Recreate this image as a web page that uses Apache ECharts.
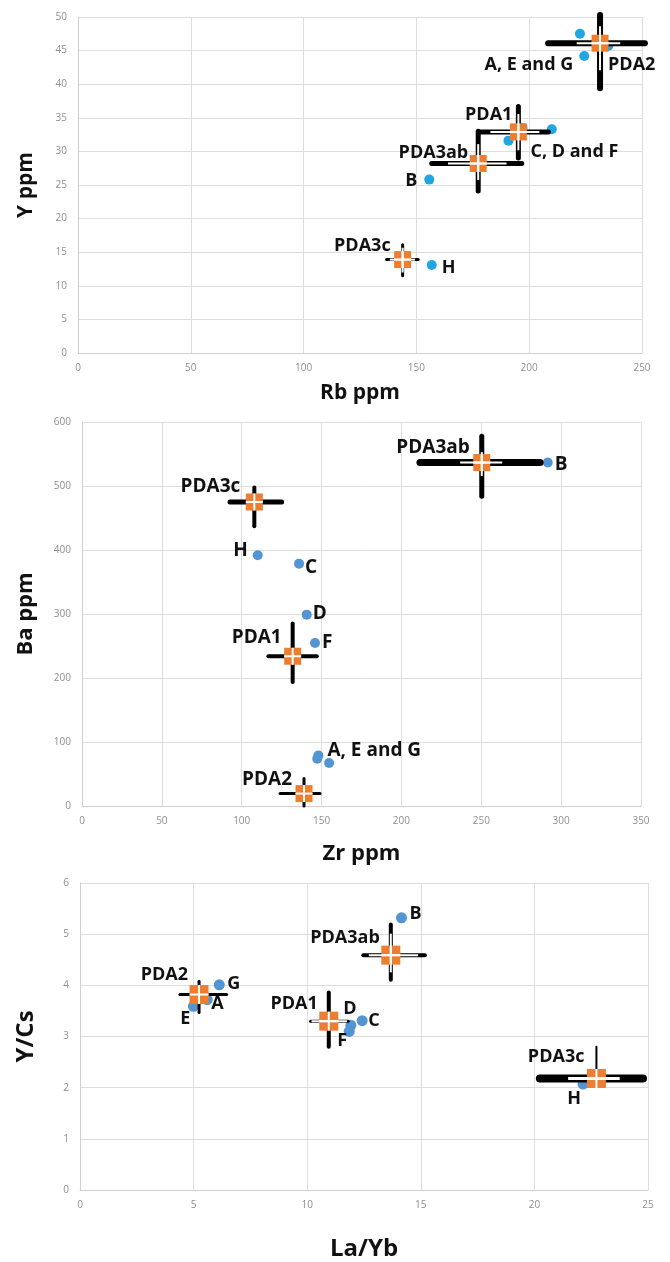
<!DOCTYPE html>
<html><head><meta charset="utf-8">
<script src="https://cdn.jsdelivr.net/npm/echarts@6/dist/echarts.min.js"></script>
<style>html,body{margin:0;padding:0;background:#fff}#c{width:670px;height:1262px}</style>
</head><body><div id="c"></div>
<script>
// ---------- Panel 1: Rb vs Y ----------
const p1SampleRb = [222.5, 224.4, 235.0, 210.0, 190.8, 197.0, 155.7, 156.8];
const p1SampleY  = [47.5, 44.2, 45.7, 33.3, 31.6, 33.5, 25.8, 13.1];
const p1SampleLabels = ['', 'A, E and G', '', '', 'C, D and F', '', 'B', 'H'];
const p1PdaNames = ['PDA2', 'PDA1', 'PDA3ab', 'PDA3c'];
const p1PdaRb = [231.4, 195.2, 177.4, 143.9];
const p1PdaY  = [46.1, 32.9, 28.2, 13.9];
const p1PdaRbLow  = [208.4, 177.5, 156.8, 136.8];
const p1PdaRbHigh = [251.3, 208.5, 196.7, 150.8];
const p1PdaYLow   = [39.4, 29.0, 24.1, 11.5];
const p1PdaYHigh  = [50.3, 36.7, 33.0, 16.1];

// ---------- Panel 2: Zr vs Ba ----------
const p2SampleZr = [110.0, 135.9, 140.7, 145.9, 148.0, 147.3, 154.7, 291.6];
const p2SampleBa = [391.7, 378.7, 299.0, 254.7, 79.0, 74.0, 67.2, 536.6];
const p2SampleLabels = ['H', 'C', 'D', 'F', 'A, E and G', '', '', 'B'];
const p2PdaNames = ['PDA3c', 'PDA3ab', 'PDA1', 'PDA2'];
const p2PdaZr = [107.9, 250.3, 131.9, 139.0];
const p2PdaBa = [475.0, 536.6, 234.0, 19.4];
const p2PdaZrLow  = [92.7, 211.6, 116.7, 124.0];
const p2PdaZrHigh = [125.0, 286.8, 147.0, 149.0];
const p2PdaBaLow  = [437.0, 484.0, 193.7, 0.0];
const p2PdaBaHigh = [497.5, 577.7, 285.0, 42.8];

// ---------- Panel 3: La/Yb vs Y/Cs ----------
const p3SampleLaYb = [6.13, 4.99, 5.6, 14.15, 12.42, 11.92, 11.85, 22.14];
const p3SampleYCs  = [4.01, 3.59, 3.72, 5.32, 3.31, 3.22, 3.10, 2.07];
const p3SampleLabels = ['G', 'E', 'A', 'B', 'C', 'D', 'F', 'H'];
const p3PdaNames = ['PDA2', 'PDA1', 'PDA3ab', 'PDA3c'];
const p3PdaLaYb = [5.24, 10.95, 13.68, 22.73];
const p3PdaYCs  = [3.82, 3.30, 4.59, 2.18];
const p3PdaLaYbLow  = [4.40, 10.15, 12.47, 20.24];
const p3PdaLaYbHigh = [6.45, 11.80, 15.18, 24.78];
const p3PdaYCsLow   = [3.47, 2.80, 4.11, 2.05];
const p3PdaYCsHigh  = [4.08, 3.86, 5.19, 2.80];

// ---------- layout / style (not data) ----------
const FONT = '"Open Sans", "DejaVu Sans", sans-serif';
const panels = [
  {
    grid: {left: 78, top: 17, width: 564, height: 336},
    x: {min: 0, max: 250, interval: 50, name: 'Rb ppm', gap: 30},
    y: {min: 0, max: 50, interval: 5, name: 'Y ppm', gap: 41},
    titleSize: 21, labelSize: 18, dotColor: '#20A6E2', dotR: 5, mk: 17,
    samples: [p1SampleRb, p1SampleY, p1SampleLabels],
    pda: [p1PdaNames, p1PdaRb, p1PdaY, p1PdaRbLow, p1PdaRbHigh, p1PdaYLow, p1PdaYHigh],
    sOff: [null, [-11, 9, 'right'], null, null, [22, 11, 'left'], null, [-12, 1, 'right'], [10, 3, 'left']],
    pOff: [[8, 22, 'left'], [-6, -17, 'right'], [-10, -11, 'right'], [-12, -14, 'right']],
    // [blackW x, blackW y, whiteW x, whiteW y, white frac x, white frac y]
    bars: [[6, 6, 2, 2, .45, .6], [5, 5, 2, 2, .7, .7], [5, 5, 2, 2, .65, .6], [3, 3, 2, 2, .8, .8]]
  },
  {
    grid: {left: 82, top: 422, width: 559, height: 384},
    x: {min: 0, max: 350, interval: 50, name: 'Zr ppm', gap: 37},
    y: {min: 0, max: 600, interval: 100, name: 'Ba ppm', gap: 45},
    titleSize: 22, labelSize: 19, dotColor: '#5394D2', dotR: 5, mk: 17,
    samples: [p2SampleZr, p2SampleBa, p2SampleLabels],
    pda: [p2PdaNames, p2PdaZr, p2PdaBa, p2PdaZrLow, p2PdaZrHigh, p2PdaBaLow, p2PdaBaHigh],
    sOff: [[-10, -5, 'right'], [6, 4, 'left'], [6, -1, 'left'], [7, 0, 'left'], [9, -5, 'left'], null, null, [7, 2, 'left']],
    pOff: [[-14, -15, 'right'], [-12, -15, 'right'], [-11, -19, 'right'], [-12, -14, 'right']],
    bars: [[5, 4, 0, 0, 0, 0], [7, 5, 2, 2, .35, .4], [4, 4, 0, 0, 0, 0], [3, 3, 0, 0, 0, 0]]
  },
  {
    grid: {left: 80, top: 883, width: 568, height: 314},
    x: {min: 0, max: 25, interval: 5, name: 'La/Yb', gap: 47},
    y: {min: 0, max: 6, interval: 1, name: 'Y/Cs', gap: 42},
    titleSize: 24, labelSize: 18, dotColor: '#5394D2', dotR: 5.5, mk: 19,
    samples: [p3SampleLaYb, p3SampleYCs, p3SampleLabels],
    pda: [p3PdaNames, p3PdaLaYb, p3PdaYCs, p3PdaLaYbLow, p3PdaLaYbHigh, p3PdaYCsLow, p3PdaYCsHigh],
    sOff: [[8, -1, 'left'], [-8, 13, 'center'], [4, 4, 'left'], [8, -4, 'left'], [6, 0, 'left'], [-1, -16, 'center'], [-7, 9, 'center'], [-9, 15, 'center']],
    pOff: [[-11, -20, 'right'], [-11, -17, 'right'], [-11, -17, 'right'], [-12, -22, 'right']],
    bars: [[3, 3, 0, 0, 0, 0], [3, 4, 2, 0, .95, 0], [4, 4, 2, 2, .8, .7], [8, 2, 3, 0, .5, 0]]
  }
];

function txt(x, y, text, size, align) {
  return {type: 'text', z2: 10, style: {text: text, x: x, y: y, fill: '#111',
    font: 'bold ' + size + 'px ' + FONT, align: align, verticalAlign: 'middle'}};
}

const option = {
  animation: false,
  backgroundColor: '#fff',
  grid: [], xAxis: [], yAxis: [], series: []
};

panels.forEach(function (p, k) {
  option.grid.push(Object.assign({containLabel: false}, p.grid));
  const axisCommon = {
    type: 'value',
    nameLocation: 'middle',
    axisLine: {show: true, lineStyle: {color: '#cfcfcf', width: 1}},
    axisTick: {show: false},
    splitLine: {show: true, lineStyle: {color: '#dedede', width: 1}},
    axisLabel: {color: '#8f8f8f', fontSize: 10, fontFamily: FONT, showMaxLabel: true, showMinLabel: true},
    nameTextStyle: {color: '#111', fontWeight: 'bold', fontSize: p.titleSize, fontFamily: FONT}
  };
  option.xAxis.push(Object.assign({}, axisCommon, {
    gridIndex: k, min: p.x.min, max: p.x.max, interval: p.x.interval, name: p.x.name, nameGap: p.x.gap,
    axisLabel: Object.assign({}, axisCommon.axisLabel, {margin: 10})
  }));
  option.yAxis.push(Object.assign({}, axisCommon, {
    gridIndex: k, min: p.y.min, max: p.y.max, interval: p.y.interval, name: p.y.name, nameGap: p.y.gap,
    axisLabel: Object.assign({}, axisCommon.axisLabel, {margin: 11})
  }));

  // sample dots
  const sx = p.samples[0], sy = p.samples[1], sl = p.samples[2];
  option.series.push({
    type: 'custom', xAxisIndex: k, yAxisIndex: k, clip: false, z: 2,
    data: sx.map(function (v, i) { return [v, sy[i]]; }),
    renderItem: function (params, api) {
      const i = params.dataIndex;
      const c = api.coord([api.value(0), api.value(1)]);
      const ch = [{type: 'circle', shape: {cx: c[0], cy: c[1], r: p.dotR}, style: {fill: p.dotColor}}];
      if (sl[i] && p.sOff[i]) {
        const o = p.sOff[i];
        ch.push(txt(c[0] + o[0], c[1] + o[1], sl[i], p.labelSize, o[2]));
      }
      return {type: 'group', children: ch};
    }
  });

  // PDA markers with error bars
  const d = p.pda;
  option.series.push({
    type: 'custom', xAxisIndex: k, yAxisIndex: k, clip: false, z: 3,
    data: d[1].map(function (v, i) { return [v, d[2][i], d[3][i], d[4][i], d[5][i], d[6][i]]; }),
    renderItem: function (params, api) {
      const i = params.dataIndex;
      const c = api.coord([api.value(0), api.value(1)]);
      const xl = api.coord([api.value(2), api.value(1)])[0];
      const xh = api.coord([api.value(3), api.value(1)])[0];
      const yl = api.coord([api.value(0), api.value(4)])[1];
      const yh = api.coord([api.value(0), api.value(5)])[1];
      const b = p.bars[i];
      const s = p.mk;
      const ch = [];
      ch.push({type: 'line', shape: {x1: xl, y1: c[1], x2: xh, y2: c[1]}, style: {stroke: '#000', lineWidth: b[0], lineCap: 'round'}});
      ch.push({type: 'line', shape: {x1: c[0], y1: yl, x2: c[0], y2: yh}, style: {stroke: '#000', lineWidth: b[1], lineCap: 'round'}});
      ch.push({type: 'rect', shape: {x: c[0] - s / 2, y: c[1] - s / 2, width: s, height: s}, style: {fill: '#ED7D31'}});
      if (b[2] > 0) {
        ch.push({type: 'line', shape: {x1: c[0] - b[4] * (c[0] - xl), y1: c[1], x2: c[0] + b[4] * (xh - c[0]), y2: c[1]},
          style: {stroke: '#fff', lineWidth: b[2]}});
      }
      if (b[3] > 0) {
        ch.push({type: 'line', shape: {x1: c[0], y1: c[1] - b[5] * (c[1] - yh), x2: c[0], y2: c[1] + b[5] * (yl - c[1])},
          style: {stroke: '#fff', lineWidth: b[3]}});
      }
      ch.push({type: 'line', shape: {x1: c[0] - s / 2, y1: c[1], x2: c[0] + s / 2, y2: c[1]}, style: {stroke: '#fff', lineWidth: 2}});
      ch.push({type: 'line', shape: {x1: c[0], y1: c[1] - s / 2, x2: c[0], y2: c[1] + s / 2}, style: {stroke: '#fff', lineWidth: 2}});
      const o = p.pOff[i];
      ch.push(txt(c[0] + o[0], c[1] + o[1], d[0][i], p.labelSize, o[2]));
      return {type: 'group', children: ch};
    }
  });
});

const chart = echarts.init(document.getElementById('c'), null, {renderer: 'canvas'});
chart.setOption(option);
</script>
</body></html>
